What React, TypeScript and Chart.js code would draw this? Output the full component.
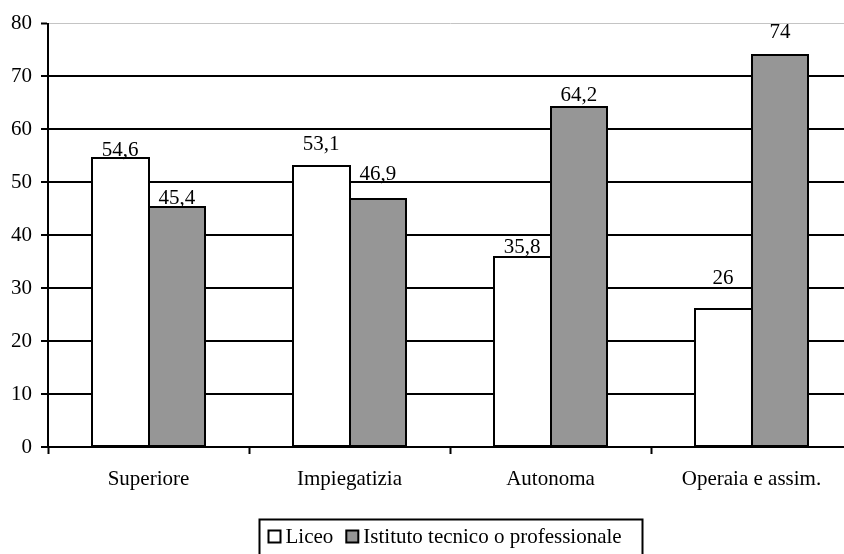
import React, { useEffect, useRef } from "react";
import { Chart, registerables } from "chart.js";

Chart.register(...registerables);

// Data
const categories = ["Superiore", "Impiegatizia", "Autonoma", "Operaia e assim."];
const seriesNames = ["Liceo", "Istituto tecnico o professionale"];
const liceo = [54.6, 53.1, 35.8, 26];
const tecnico = [45.4, 46.9, 64.2, 74];
const yMin = 0;
const yMax = 80;
const yStep = 10;

// Styling
const FONT = "'Liberation Serif', 'Times New Roman', serif";
const FONT_SIZE = 21;
const GREY = "#969696";
const fills = ["#ffffff", GREY];
// distance (px) from bar top to the centre of its value label
const labelLift = [
  [8.5, 22.5, 11, 32],
  [10, 25.3, 13, 24],
];

const fmt = (v: number) => String(v).replace(".", ",");

// Black 2px outline around every bar; neighbouring bars share one line.
const barOutlines = {
  id: "barOutlines",
  afterDatasetsDraw(chart: any) {
    const ctx = chart.ctx;
    ctx.save();
    ctx.strokeStyle = "#000";
    ctx.lineWidth = 2;
    chart.data.datasets.forEach((_ds: any, di: number) => {
      const meta = chart.getDatasetMeta(di);
      meta.data.forEach((el: any) => {
        const { x, y, base, width } = el.getProps(["x", "y", "base", "width"], true);
        const l = Math.round(x - width / 2);
        const r = Math.round(x + width / 2);
        const t = Math.round(y);
        const b = Math.round(base);
        ctx.strokeRect(l, t, r - l, b - t);
      });
    });
    ctx.restore();
  },
};

const valueLabels = {
  id: "valueLabels",
  afterDatasetsDraw(chart: any) {
    const ctx = chart.ctx;
    ctx.save();
    ctx.font = `${FONT_SIZE}px ${FONT}`;
    ctx.fillStyle = "#000";
    ctx.textAlign = "center";
    ctx.textBaseline = "alphabetic";
    chart.data.datasets.forEach((ds: any, di: number) => {
      const meta = chart.getDatasetMeta(di);
      meta.data.forEach((el: any, i: number) => {
        const v = ds.data[i] as number;
        const y = el.y - labelLift[di][i] + 7;
        ctx.fillText(fmt(v), el.x, y);
      });
    });
    ctx.restore();
  },
};

const boxedLegend = {
  id: "boxedLegend",
  afterDraw(chart: any) {
    const ctx = chart.ctx;
    ctx.save();
    ctx.font = `${FONT_SIZE}px ${FONT}`;
    const left = 259.5;
    const top = 519.5;
    const right = 642.5;
    ctx.strokeStyle = "#000";
    ctx.lineWidth = 2;
    ctx.strokeRect(left, top, right - left, 60);
    const cy = 537;
    let x = 268.5;
    seriesNames.forEach((name, i) => {
      ctx.fillStyle = fills[i];
      ctx.fillRect(x, cy - 6.5, 12, 12);
      ctx.strokeStyle = "#000";
      ctx.lineWidth = 2;
      ctx.strokeRect(x, cy - 6.5, 12, 12);
      ctx.fillStyle = "#000";
      ctx.textAlign = "left";
      ctx.textBaseline = "middle";
      const tx = x + 17;
      ctx.fillText(name, tx, cy);
      x = tx + ctx.measureText(name).width + 13;
    });
    ctx.restore();
  },
};

export default function App() {
  const canvasRef = useRef<HTMLCanvasElement | null>(null);

  useEffect(() => {
    const canvas = canvasRef.current;
    if (!canvas) return;
    Chart.defaults.font.family = FONT;
    const chart = new Chart(canvas, {
      type: "bar",
      data: {
        labels: categories,
        datasets: [
          {
            label: seriesNames[0],
            data: liceo,
            backgroundColor: fills[0],
            borderWidth: 0,
          },
          {
            label: seriesNames[1],
            data: tecnico,
            backgroundColor: fills[1],
            borderWidth: 0,
          },
        ],
      },
      options: {
        animation: false,
        responsive: false,
        devicePixelRatio: 1,
        layout: { padding: { top: 23.5, right: 18, left: 0, bottom: 0 } },
        datasets: {
          bar: { barPercentage: 1, categoryPercentage: 0.567, inflateAmount: 0 },
        },
        plugins: {
          legend: { display: false },
          tooltip: { enabled: false },
          title: { display: false },
        },
        scales: {
          x: {
            grid: {
              display: true,
              drawOnChartArea: false,
              drawTicks: true,
              tickLength: 7,
              tickColor: "#000",
              tickWidth: 2,
              offset: true,
            },
            border: { display: true, color: "#000", width: 2 },
            ticks: {
              color: "#000",
              font: { size: FONT_SIZE, family: FONT },
              padding: 13,
              maxRotation: 0,
              autoSkip: false,
            },
            afterFit: (scale: any) => {
              scale.height = 107;
            },
          },
          y: {
            min: yMin,
            max: yMax,
            ticks: {
              stepSize: yStep,
              color: "#000",
              font: { size: FONT_SIZE, family: FONT },
              padding: 9,
            },
            grid: {
              color: (c: any) => (c.tick && c.tick.value === yMax ? "#c4c4c4" : "#000"),
              lineWidth: (c: any) => (c.tick && c.tick.value === yMax ? 1 : 2),
              tickColor: "#000",
              tickLength: 7,
              tickWidth: 2,
            },
            border: { display: true, color: "#000", width: 2 },
            afterFit: (scale: any) => {
              scale.width = 48;
            },
          },
        },
      },
      plugins: [barOutlines, valueLabels, boxedLegend],
    });
    return () => chart.destroy();
  }, []);

  return (
    <div
      style={{
        position: "fixed",
        left: 0,
        top: 0,
        width: 844,
        height: 554,
        overflow: "hidden",
        background: "#fff",
      }}
    >
      <canvas ref={canvasRef} width={870} height={554} style={{ display: "block" }} />
    </div>
  );
}
